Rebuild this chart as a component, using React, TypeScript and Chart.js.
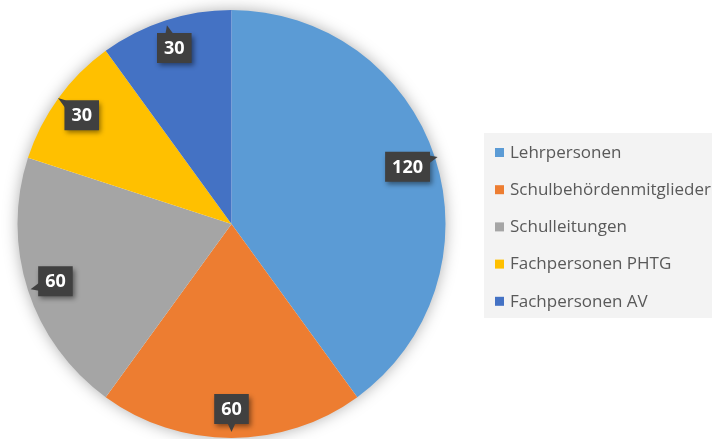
import { useEffect, useRef } from 'react';
import { Chart, registerables } from 'chart.js';

Chart.register(...registerables);

const categories = ['Lehrpersonen', 'Schulbehördenmitglieder', 'Schulleitungen', 'Fachpersonen PHTG', 'Fachpersonen AV'];
const values = [120, 60, 60, 30, 30];
const colors = ['#5B9BD5', '#ED7D31', '#A5A5A5', '#FFC000', '#4472C4'];

const FONT = '"Open Sans", "DejaVu Sans", sans-serif';

const shadowPlugin = {
  id: 'pieShadow',
  beforeDatasetsDraw(chart: any) {
    const arc = chart.getDatasetMeta(0).data[0];
    if (!arc) return;
    const { x, y, outerRadius } = arc.getProps(['x', 'y', 'outerRadius'], true);
    const ctx = chart.ctx;
    ctx.save();
    ctx.shadowColor = 'rgba(0,0,0,0.35)';
    ctx.shadowBlur = 16;
    ctx.fillStyle = '#ffffff';
    ctx.beginPath();
    ctx.arc(x, y, outerRadius - 1, 0, Math.PI * 2);
    ctx.fill();
    ctx.restore();
  },
};

const labelPlugin = {
  id: 'calloutLabels',
  afterDatasetsDraw(chart: any) {
    const ctx = chart.ctx;
    const meta = chart.getDatasetMeta(0);
    const data = chart.data.datasets[0].data as number[];
    meta.data.forEach((arc: any, i: number) => {
      const { x, y, startAngle, endAngle, outerRadius } = arc.getProps(
        ['x', 'y', 'startAngle', 'endAngle', 'outerRadius'],
        true
      );
      const mid = (startAngle + endAngle) / 2;
      const ux = Math.cos(mid);
      const uy = Math.sin(mid);
      const cx = x + ux * outerRadius * 0.865;
      const cy = y + uy * outerRadius * 0.865;
      const text = String(data[i]);
      ctx.save();
      ctx.font = `bold 18px ${FONT}`;
      const tw = ctx.measureText(text).width;
      const hw = tw / 2 + 7;
      const hh = 15;
      const tx = Math.abs(ux) > 1e-6 ? hw / Math.abs(ux) : Infinity;
      const ty = Math.abs(uy) > 1e-6 ? hh / Math.abs(uy) : Infinity;
      const t = Math.min(tx, ty);
      const px = cx + ux * t;
      const py = cy + uy * t;
      const tipX = px + ux * 8;
      const tipY = py + uy * 8;
      ctx.shadowColor = 'rgba(0,0,0,0.45)';
      ctx.shadowBlur = 5;
      ctx.shadowOffsetX = 2;
      ctx.shadowOffsetY = 3;
      ctx.fillStyle = '#404040';
      ctx.beginPath();
      ctx.rect(cx - hw, cy - hh, hw * 2, hh * 2);
      ctx.fill();
      ctx.shadowColor = 'transparent';
      ctx.beginPath();
      if (tx < ty) {
        const by = Math.max(cy - hh + 4, Math.min(cy + hh - 4, py));
        ctx.moveTo(px - Math.sign(ux), by - 4);
        ctx.lineTo(tipX, tipY);
        ctx.lineTo(px - Math.sign(ux), by + 4);
      } else {
        const bx = Math.max(cx - hw + 4, Math.min(cx + hw - 4, px));
        ctx.moveTo(bx - 4, py - Math.sign(uy));
        ctx.lineTo(tipX, tipY);
        ctx.lineTo(bx + 4, py - Math.sign(uy));
      }
      ctx.closePath();
      ctx.fill();
      ctx.fillStyle = '#ffffff';
      ctx.textAlign = 'center';
      ctx.textBaseline = 'middle';
      ctx.fillText(text, cx, cy + 1);
      ctx.restore();
    });
  },
};

const legendPlugin = {
  id: 'customLegend',
  afterDraw(chart: any) {
    const ctx = chart.ctx;
    ctx.save();
    ctx.fillStyle = '#f3f3f3';
    ctx.fillRect(484, 133, 240, 185);
    ctx.font = `17px ${FONT}`;
    ctx.textBaseline = 'middle';
    ctx.textAlign = 'left';
    categories.forEach((c, i) => {
      const yy = 153 + i * 37.2;
      ctx.fillStyle = colors[i];
      ctx.fillRect(495, yy - 5, 9, 9);
      ctx.fillStyle = '#595959';
      ctx.fillText(c, 510, yy);
    });
    ctx.restore();
  },
};

export default function App() {
  const ref = useRef<HTMLCanvasElement>(null);
  useEffect(() => {
    document.body.style.margin = '0';
    const chart = new Chart(ref.current!, {
      type: 'pie',
      data: {
        labels: categories,
        datasets: [
          {
            data: values,
            backgroundColor: colors,
            borderWidth: 0,
          },
        ],
      },
      options: {
        responsive: false,
        animation: false,
        devicePixelRatio: 1,
        layout: { padding: { left: 17, right: 266, top: 10, bottom: 1 } },
        plugins: {
          legend: { display: false },
          tooltip: { enabled: false },
        },
      },
      plugins: [shadowPlugin, labelPlugin, legendPlugin],
    });
    return () => chart.destroy();
  }, []);
  return (
    <div style={{ position: 'absolute', left: 0, top: 0, width: 712, height: 439, background: '#ffffff' }}>
      <canvas ref={ref} width={712} height={439} style={{ display: 'block', width: 712, height: 439 }} />
    </div>
  );
}
